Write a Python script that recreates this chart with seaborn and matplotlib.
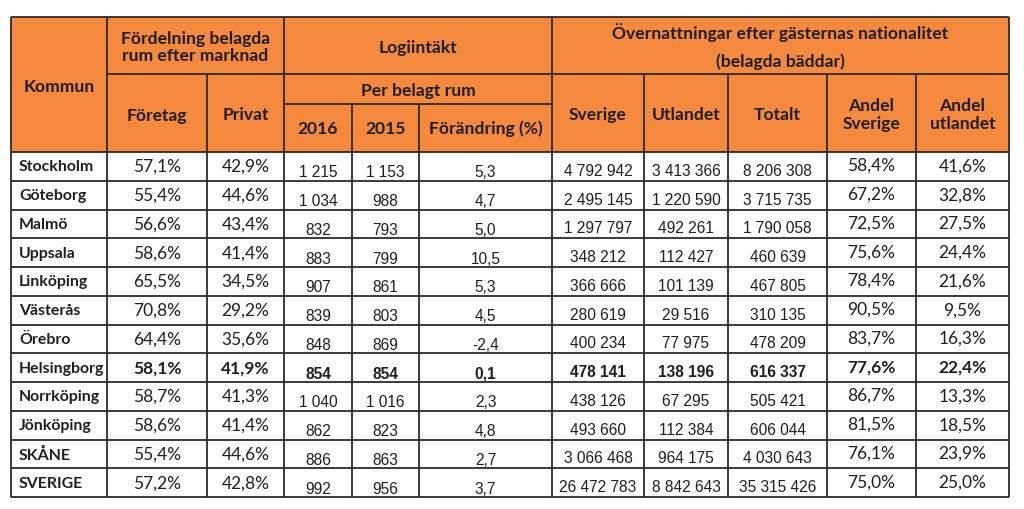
import matplotlib
matplotlib.use("Agg")
import matplotlib.pyplot as plt
import seaborn as sns
from matplotlib.patches import Rectangle

# ---------------- data ----------------
kommun = ["Stockholm", "Göteborg", "Malmö", "Uppsala", "Linköping", "Västerås",
          "Örebro", "Helsingborg", "Norrköping", "Jönköping", "SKÅNE", "SVERIGE"]
foretag = [57.1, 55.4, 56.6, 58.6, 65.5, 70.8, 64.4, 58.1, 58.7, 58.6, 55.4, 57.2]
privat = [42.9, 44.6, 43.4, 41.4, 34.5, 29.2, 35.6, 41.9, 41.3, 41.4, 44.6, 42.8]
logi_2016 = [1215, 1034, 832, 883, 907, 839, 848, 854, 1040, 862, 886, 992]
logi_2015 = [1153, 988, 793, 799, 861, 803, 869, 854, 1016, 823, 863, 956]
forandring = [5.3, 4.7, 5.0, 10.5, 5.3, 4.5, -2.4, 0.1, 2.3, 4.8, 2.7, 3.7]
over_sverige = [4792942, 2495145, 1297797, 348212, 366666, 280619, 400234,
                478141, 438126, 493660, 3066468, 26472783]
over_utlandet = [3413366, 1220590, 492261, 112427, 101139, 29516, 77975,
                 138196, 67295, 112384, 964175, 8842643]
over_totalt = [8206308, 3715735, 1790058, 460639, 467805, 310135, 478209,
               616337, 505421, 606044, 4030643, 35315426]
andel_sverige = [58.4, 67.2, 72.5, 75.6, 78.4, 90.5, 83.7, 77.6, 86.7, 81.5, 76.1, 75.0]
andel_utlandet = [41.6, 32.8, 27.5, 24.4, 21.6, 9.5, 16.3, 22.4, 13.3, 18.5, 23.9, 25.0]
bold_row = "Helsingborg"

group_titles = ["Fördelning belagda\nrum efter marknad", "Logiintäkt",
                "Övernattningar efter gästernas nationalitet", "(belagda bäddar)"]
sub_titles = ["Kommun", "Företag", "Privat", "Per belagt rum", "2016", "2015",
              "Förändring (%)", "Sverige", "Utlandet", "Totalt",
              "Andel\nSverige", "Andel\nutlandet"]

# ---------------- style ----------------
sns.set_theme(style="white")
plt.rcParams['font.family'] = ['Lato', 'DejaVu Sans']

ORANGE = "#F5893D"
LINE = "#2b2b2b"
TXT = "#1f1f1f"
LW = 1.3

fig = plt.figure(figsize=(10.24, 5.10), dpi=100)
ax = fig.add_axes([0, 0, 1, 1])
ax.set_xlim(0, 1024)
ax.set_ylim(510, 0)
ax.axis("off")

cx = [11, 107, 207, 284, 352, 419, 552, 644, 728, 827, 916, 1009]
top, h1, h2, hb = 18, 75, 105, 153
nrows = len(kommun)
row_h = 28.75
bottom = hb + nrows * row_h

# header background
ax.add_patch(Rectangle((cx[0], top), cx[-1] - cx[0], hb - top,
                       facecolor=ORANGE, edgecolor="none", zorder=0))

# ---------------- grid lines ----------------
ax.hlines([top, hb, bottom], cx[0], cx[-1], color=LINE, lw=LW, zorder=3)
ax.hlines(h1, cx[1], cx[-1], color=LINE, lw=LW, zorder=3)
ax.hlines(h2, cx[3], cx[6], color=LINE, lw=LW, zorder=3)
ax.hlines([hb + i * row_h for i in range(1, nrows)], cx[0], cx[-1],
          color=LINE, lw=LW, zorder=3)
ax.vlines([cx[0], cx[1], cx[3], cx[6], cx[-1]], top, bottom, color=LINE, lw=LW, zorder=3)
ax.vlines([cx[2], cx[7], cx[8], cx[9], cx[10]], h1, bottom, color=LINE, lw=LW, zorder=3)
ax.vlines([cx[4], cx[5]], h2, bottom, color=LINE, lw=LW, zorder=3)


def mid(a, b):
    return (cx[a] + cx[b]) / 2


# ---------------- header text ----------------
hkw = dict(ha="center", va="center", fontweight="bold", fontsize=12.6, color=TXT,
           family=["Lato", "DejaVu Sans"], zorder=4)
ax.text(mid(1, 3), (top + h1) / 2 + 1, group_titles[0], linespacing=1.15, **hkw)
ax.text(mid(3, 6), (top + h1) / 2 + 1, group_titles[1], **hkw)
ax.text(mid(6, 11), 33, group_titles[2], **hkw)
ax.text(mid(6, 11), 62, group_titles[3], **hkw)
ax.text(mid(0, 1), (top + hb) / 2 + 1, sub_titles[0], **hkw)
ax.text(mid(1, 2), (h1 + hb) / 2 + 2, sub_titles[1], **hkw)
ax.text(mid(2, 3), (h1 + hb) / 2 + 1, sub_titles[2], **hkw)
ax.text(mid(3, 6), (h1 + h2) / 2 + 1, sub_titles[3], **hkw)
ax.text(mid(3, 4), (h2 + hb) / 2, sub_titles[4], **hkw)
ax.text(mid(4, 5), (h2 + hb) / 2, sub_titles[5], **hkw)
ax.text(mid(5, 6), (h2 + hb) / 2, sub_titles[6], **hkw)
ax.text(mid(6, 7), (h1 + hb) / 2 + 1, sub_titles[7], **hkw)
ax.text(mid(7, 8), (h1 + hb) / 2 + 1, sub_titles[8], **hkw)
ax.text(mid(8, 9), (h1 + hb) / 2 + 1, sub_titles[9], **hkw)
ax.text(mid(9, 10), (h1 + hb) / 2 + 1, sub_titles[10], linespacing=1.1, **hkw)
ax.text(mid(10, 11), (h1 + hb) / 2 + 1, sub_titles[11], linespacing=1.1, **hkw)


# ---------------- body ----------------
def pct(v):
    return f"{v:.1f}".replace(".", ",") + "%"


def thou(v):
    return f"{v:,}".replace(",", " ")


def dec(v):
    return f"{v:.1f}".replace(".", ",")


CAL = ["Lato", "DejaVu Sans"]
ARI = ["Liberation Sans", "DejaVu Sans"]
PFS = 12.5
NFS = 11.2
columns = [
    (foretag, pct, CAL, PFS, 14),
    (privat, pct, CAL, PFS, 14),
    (logi_2016, thou, ARI, NFS, 20),
    (logi_2015, thou, ARI, NFS, 20),
    (forandring, dec, ARI, NFS, 20),
    (over_sverige, thou, ARI, NFS, 18.5),
    (over_utlandet, thou, ARI, NFS, 18.5),
    (over_totalt, thou, ARI, NFS, 18.5),
    (andel_sverige, pct, CAL, PFS, 13),
    (andel_utlandet, pct, CAL, PFS, 13.5),
]

for r, name in enumerate(kommun):
    y0 = hb + r * row_h
    bold = name == bold_row
    ax.text(cx[0] + 8, y0 + 14.5, name, ha="left", va="center", fontsize=11.4,
            fontweight="bold", color=TXT, family=CAL, zorder=4)
    for c, (vals, fmt, fam, fs, off) in enumerate(columns):
        ax.text(mid(c + 1, c + 2), y0 + off, fmt(vals[r]), ha="center", va="center",
                fontsize=fs, fontweight="bold" if bold else "normal",
                color=TXT, family=fam, zorder=4)

fig.savefig("out.png", dpi=100, facecolor="white")
